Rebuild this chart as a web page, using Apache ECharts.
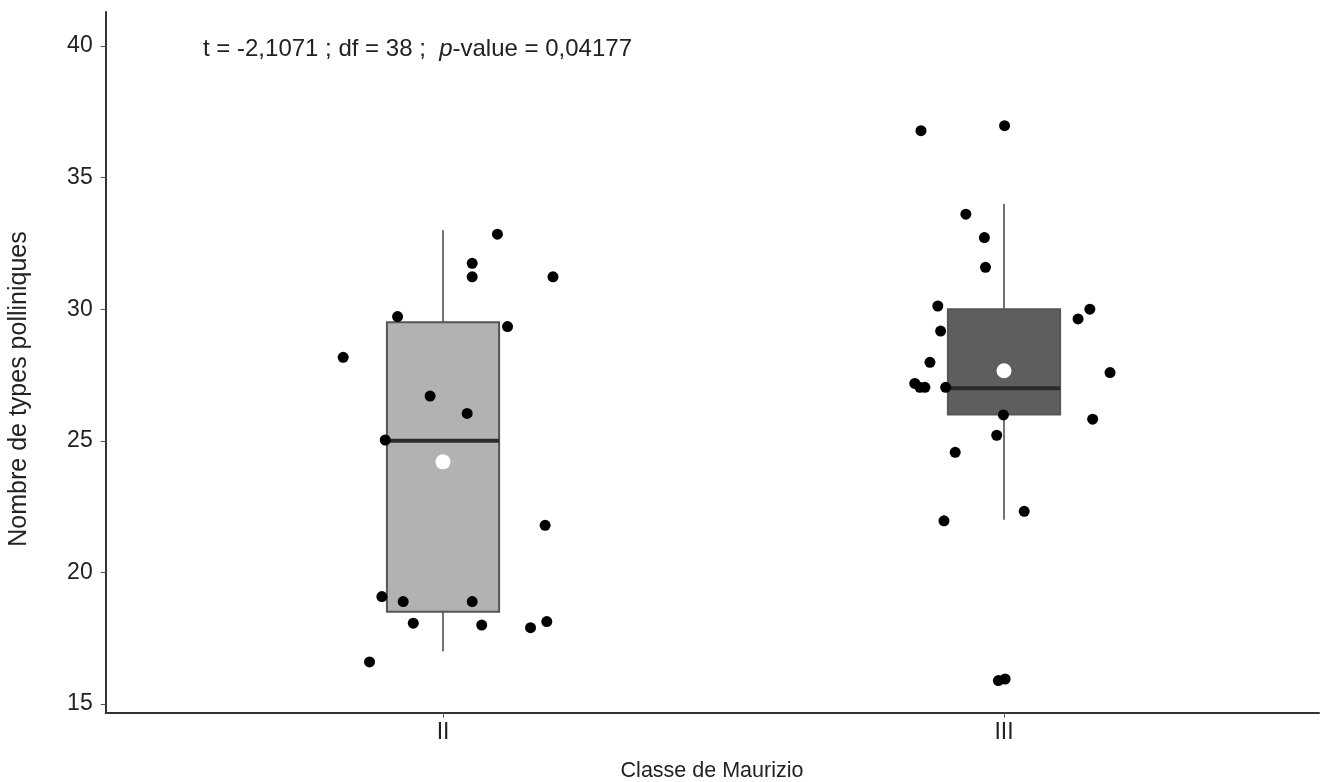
<!DOCTYPE html>
<html>
<head>
<meta charset="utf-8">
<script src="https://cdn.jsdelivr.net/npm/echarts@6/dist/echarts.min.js"></script>
<style>
html,body{margin:0;padding:0;background:#fff;}
#chart{width:1328px;height:782px;}
</style>
</head>
<body>
<div id="chart"></div>
<script>
// Categories and their positions on the value x-axis
var categories = ['II', 'III'];
var categoryPos = [1, 2];

// Box statistics per category
var whiskerLow = [17, 22];
var q1 = [18.5, 26];
var median = [25, 27];
var q3 = [29.5, 30];
var whiskerHigh = [33, 34];
var means = [24.2, 27.66];

// Jittered observations: x offset from category centre, value
var jitterII = [-0.178, -0.081, -0.103, -0.023, 0.043, 0.052, 0.052, 0.097, 0.115, 0.196, 0.182, -0.109, -0.071, 0.052, -0.053, 0.069, 0.156, 0.185, -0.131];
var valuesII = [28.17, 29.72, 25.03, 26.70, 26.04, 31.74, 31.23, 32.85, 29.34, 31.23, 21.79, 19.08, 18.89, 18.89, 18.07, 18.00, 17.90, 18.13, 16.60];
var jitterIII = [-0.148, 0.001, -0.068, -0.035, -0.033, -0.118, -0.113, 0.132, 0.153, -0.132, -0.159, -0.150, -0.141, -0.104, 0.189, -0.001, -0.013, -0.087, 0.158, 0.036, -0.107, -0.010, 0.002];
var valuesIII = [36.78, 36.97, 33.61, 32.72, 31.59, 30.12, 29.17, 29.63, 30.0, 27.98, 27.18, 27.03, 27.03, 27.03, 27.59, 25.98, 25.21, 24.56, 25.82, 22.32, 21.96, 15.89, 15.95];

// Tick labels
var yTicks = [15, 20, 25, 30, 35, 40];

var boxFill = ['#b2b2b2', '#5e5e5e'];
var fontFam = 'Liberation Sans, Arial, sans-serif';

var boxData = categories.map(function (c, i) {
  return [categoryPos[i], whiskerLow[i], q1[i], median[i], q3[i], whiskerHigh[i], i];
});
var pointsData = [];
jitterII.forEach(function (j, i) { pointsData.push([categoryPos[0] + j, valuesII[i]]); });
jitterIII.forEach(function (j, i) { pointsData.push([categoryPos[1] + j, valuesIII[i]]); });
var meanData = categories.map(function (c, i) { return [categoryPos[i], means[i]]; });

function renderBox(params, api) {
  var x = api.value(0);
  var idx = api.value(6);
  var halfW = api.size([0.2, 0])[0] / 2;
  var pLow = api.coord([x, api.value(1)]);
  var pQ1 = api.coord([x, api.value(2)]);
  var pMed = api.coord([x, api.value(3)]);
  var pQ3 = api.coord([x, api.value(4)]);
  var pHigh = api.coord([x, api.value(5)]);
  return {
    type: 'group',
    children: [
      { type: 'line', shape: { x1: pHigh[0], y1: pHigh[1], x2: pQ3[0], y2: pQ3[1] }, style: { stroke: '#737373', lineWidth: 2 } },
      { type: 'line', shape: { x1: pQ1[0], y1: pQ1[1], x2: pLow[0], y2: pLow[1] }, style: { stroke: '#737373', lineWidth: 2 } },
      { type: 'rect', shape: { x: pQ3[0] - halfW, y: pQ3[1], width: halfW * 2, height: pQ1[1] - pQ3[1] }, style: { fill: boxFill[idx], stroke: '#555555', lineWidth: 2 } },
      { type: 'line', shape: { x1: pMed[0] - halfW, y1: pMed[1], x2: pMed[0] + halfW, y2: pMed[1] }, style: { stroke: '#2b2b2b', lineWidth: 4 } }
    ]
  };
}

var chart = echarts.init(document.getElementById('chart'), null, { renderer: 'canvas' });
chart.setOption({
  animation: false,
  backgroundColor: '#ffffff',
  grid: { left: 105.7, right: 9, top: 12, bottom: 69.5, containLabel: false },
  xAxis: {
    type: 'value',
    min: 0.3987,
    max: 2.5615,
    splitLine: { show: false },
    axisLine: { show: true, onZero: false, lineStyle: { color: '#333333', width: 2 } },
    axisTick: { show: true, customValues: categoryPos, length: 5, lineStyle: { color: '#555555', width: 1 } },
    axisLabel: {
      customValues: categoryPos,
      margin: 9,
      fontSize: 23,
      color: '#222222',
      fontFamily: fontFam,
      formatter: function (v) {
        var i = categoryPos.indexOf(Math.round(v));
        return i >= 0 ? categories[i] : '';
      }
    }
  },
  yAxis: {
    type: 'value',
    min: 14.677,
    max: 41.29,
    splitLine: { show: false },
    axisLine: { show: true, onZero: false, lineStyle: { color: '#333333', width: 2 } },
    axisTick: { show: true, customValues: yTicks, length: 5, lineStyle: { color: '#555555', width: 1 } },
    axisLabel: {
      customValues: yTicks,
      margin: 13,
      fontSize: 23,
      color: '#222222',
      fontFamily: fontFam
    }
  },
  graphic: [
    {
      type: 'text',
      left: 203,
      top: 37,
      style: {
        text: '{a|t = -2,1071 ; df = 38 ;  }{i|p}{a|-value = 0,04177}',
        rich: {
          a: { fontSize: 24, fontFamily: fontFam, fill: '#222222' },
          i: { fontSize: 24, fontFamily: fontFam, fontStyle: 'italic', fill: '#222222' }
        }
      }
    },
    {
      type: 'text',
      x: 712,
      y: 771,
      style: { text: 'Classe de Maurizio', fontSize: 21.5, fontFamily: fontFam, fill: '#222222', textAlign: 'center', textVerticalAlign: 'middle' }
    },
    {
      type: 'text',
      x: 19,
      y: 389,
      rotation: Math.PI / 2,
      style: { text: 'Nombre de types polliniques', fontSize: 25, fontFamily: fontFam, fill: '#222222', textAlign: 'center', textVerticalAlign: 'middle' }
    }
  ],
  series: [
    {
      type: 'custom',
      renderItem: renderBox,
      data: boxData,
      encode: { x: 0, y: [1, 2, 3, 4, 5] },
      z: 1
    },
    {
      type: 'scatter',
      data: pointsData,
      symbol: 'circle',
      symbolSize: 11,
      itemStyle: { color: '#000000', opacity: 1 },
      z: 3
    },
    {
      type: 'scatter',
      data: meanData,
      symbol: 'circle',
      symbolSize: 15,
      itemStyle: { color: '#ffffff', opacity: 1 },
      z: 4
    }
  ]
});
</script>
</body>
</html>
